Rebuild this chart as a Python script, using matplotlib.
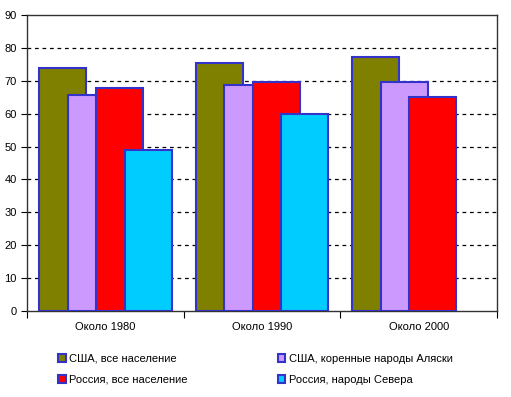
import matplotlib.pyplot as plt
import numpy as np

plt.rcParams['font.family'] = ['Liberation Sans', 'DejaVu Sans']

categories = ['Около 1980', 'Около 1990', 'Около 2000']
series_names = ['США, все население', 'США, коренные народы Аляски',
                'Россия, все население', 'Россия, народы Севера']
usa_all = [74, 75.5, 77.3]
usa_alaska = [65.7, 68.7, 69.6]
russia_all = [67.8, 69.6, 65]
russia_north = [49, 60, np.nan]
colors = ['#808000', '#CC99FF', '#FF0000', '#00CCFF']

values = [usa_all, usa_alaska, russia_all, russia_north]

fig = plt.figure(figsize=(5.11, 3.97), dpi=100)
ax = fig.add_axes([27 / 511, 86 / 397, 470 / 511, 296 / 397])

x = np.arange(len(categories))
step = 0.182
width = 0.30
bars = []
for i, (vals, col) in enumerate(zip(values, colors)):
    b = ax.bar(x + (i - 1.5) * step, vals, width, color=col,
               edgecolor='#3333CC', linewidth=1.5, zorder=3 + i)
    bars.append(b)

ax.set_xlim(-0.5, 2.5)
ax.set_ylim(0, 90)
ax.set_yticks(range(0, 91, 10))
ax.set_xticks([-0.5, 0.5, 1.5, 2.5])
ax.set_xticklabels([])
ax.set_xticks(x, minor=True)
ax.set_xticklabels(categories, minor=True)
ax.tick_params(axis='x', which='minor', length=0, pad=8, labelsize=8)
ax.tick_params(axis='x', which='major', length=5, direction='out')
ax.tick_params(axis='y', length=4, direction='out', labelsize=8)
for y in range(10, 90, 10):
    ax.axhline(y, color='black', linestyle=(0, (3, 3)), linewidth=0.9, zorder=1)
for s in ax.spines.values():
    s.set_color('#333333')
    s.set_linewidth(1)

order = [0, 2, 1, 3]
leg = fig.legend([bars[i] for i in order], [series_names[i] for i in order],
                 ncol=2, frameon=False, loc='lower left',
                 bbox_to_anchor=(48 / 511, 2 / 397), fontsize=8,
                 handlelength=0.7, handleheight=0.7, handletextpad=0.3,
                 columnspacing=8.1, labelspacing=1.02)

fig.savefig('out.png', dpi=100)
